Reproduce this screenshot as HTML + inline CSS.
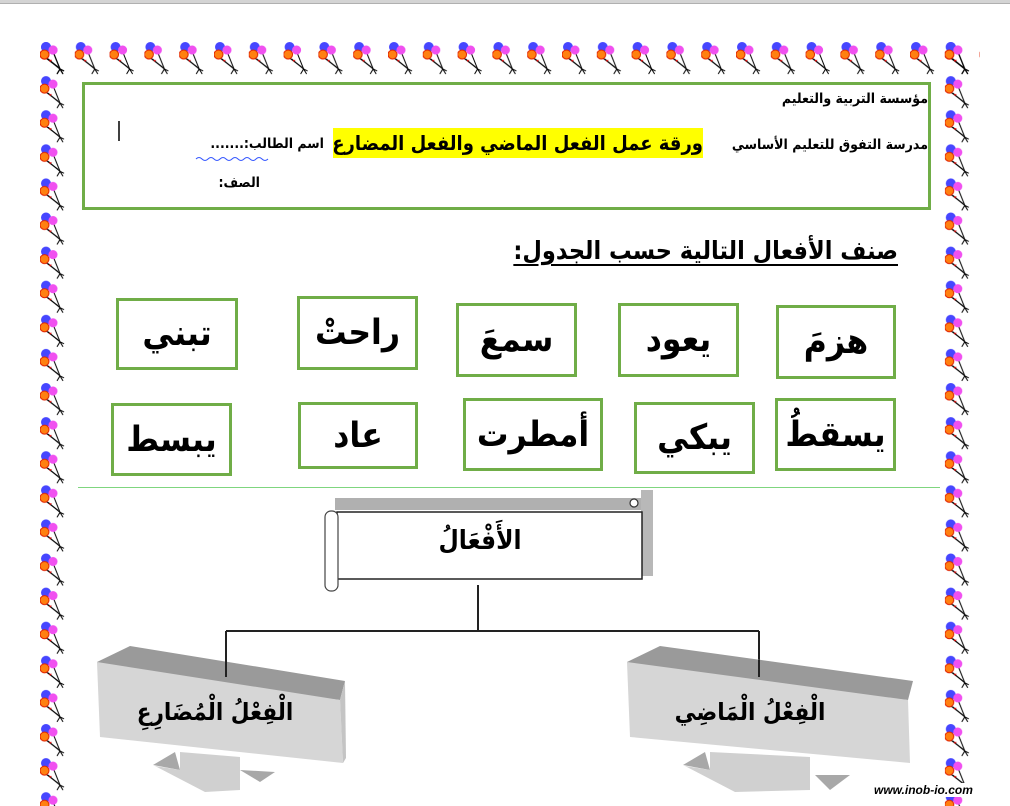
<!DOCTYPE html>
<html><head><meta charset="utf-8">
<style>
html,body{margin:0;padding:0;background:#fff;}
body{width:1010px;height:806px;position:relative;overflow:hidden;font-family:"DejaVu Sans Condensed","DejaVu Sans",sans-serif;}
.t{position:absolute;white-space:nowrap;font-weight:bold;color:#000;direction:rtl;font-family:"DejaVu Sans Condensed","DejaVu Sans",sans-serif;}
.box{position:absolute;border:3px solid #70ad47;box-sizing:border-box;display:flex;align-items:center;justify-content:center;font-weight:bold;font-size:35px;direction:rtl;font-family:"DejaVu Sans Condensed","DejaVu Sans",sans-serif;}
</style></head><body>
<div style="position:absolute;left:0;top:0;width:1010px;height:3px;background:#d4d4d4;border-bottom:1px solid #b0b0b0"></div>
<svg width="1010" height="806" style="position:absolute;left:0;top:0">
<defs>
<pattern id="bl" patternUnits="userSpaceOnUse" x="40" y="42" width="34.8" height="34.1">
<g stroke="#000" stroke-width="1" fill="none">
<path d="M8 17 L20 27 L17 32 M20 27 L23 32 M20 27 L24 29"/>
<path d="M14 12 L20 27"/>
<path d="M6 16 L18 25"/>
</g>
<circle cx="6" cy="5" r="5" fill="#4646ff"/>
<circle cx="13" cy="8" r="4.5" fill="#f050f0"/>
<circle cx="4.5" cy="12.5" r="4.5" fill="#ff8010" stroke="#e02000" stroke-width="1"/>
<path d="M9 18 l3 0 l-2 2z" fill="#e00000"/>
</pattern>
</defs>
<rect x="40" y="42" width="940" height="34" fill="url(#bl)"/>
<rect x="40" y="42" width="34" height="764" fill="url(#bl)"/>
<rect x="944.8" y="42" width="34" height="764" fill="url(#bl)"/>
<rect x="83.5" y="83.5" width="846" height="125" fill="none" stroke="#70ad47" stroke-width="3"/>
<line x1="119" y1="121" x2="119" y2="141" stroke="#000" stroke-width="1.5"/>
<line x1="78" y1="487.5" x2="940" y2="487.5" stroke="#7fd67f" stroke-width="1"/>
<rect x="335" y="498" width="312" height="12" fill="#b0b0b0"/>
<rect x="641" y="490" width="12" height="86" fill="#b8b8b8"/>
<rect x="337" y="512" width="305" height="67" fill="#fff" stroke="#222" stroke-width="1.5"/>
<rect x="325" y="511" width="13" height="80" rx="6" fill="#fff" stroke="#444" stroke-width="1.2"/>
<circle cx="634" cy="503" r="4" fill="#fff" stroke="#333" stroke-width="1.2"/>
<g stroke="#222" stroke-width="2" fill="none">
<line x1="478" y1="585" x2="478" y2="632"/>
<line x1="226" y1="631" x2="759" y2="631"/>
<line x1="226" y1="631" x2="226" y2="680"/>
<line x1="759" y1="631" x2="759" y2="680"/>
</g>
<g>
<polygon points="97,662 130,646 345,681 340,700 100,672" fill="#9a9a9a"/>
<polygon points="97,662 340,700 343,763 100,737" fill="#d6d6d6"/>
<polygon points="340,700 345,681 346,758 343,763" fill="#c4c4c4"/>
<polygon points="153,765 175,752 180,770" fill="#a8a8a8"/>
<polygon points="240,770 275,772 260,782" fill="#a8a8a8"/>
<polygon points="155,766 180,770 180,752 240,757 240,790 205,792" fill="#d0d0d0"/>
</g>
<line x1="226" y1="660" x2="226" y2="677" stroke="#222" stroke-width="2"/>
<g transform="translate(530,0)">
<polygon points="97,662 130,646 383,681 378,700 100,672" fill="#9a9a9a"/>
<polygon points="97,662 378,700 380,763 100,737" fill="#d6d6d6"/>
<polygon points="153,765 175,752 180,770" fill="#a8a8a8"/>
<polygon points="285,775 320,775 300,790" fill="#a8a8a8"/>
<polygon points="155,766 180,770 180,752 280,757 280,790 205,792" fill="#d0d0d0"/>
</g>
<line x1="759" y1="660" x2="759" y2="677" stroke="#222" stroke-width="2"/>
<path d="M196 159 q3 -3 6 0 t6 0 t6 0 t6 0 t6 0 t6 0 t6 0 t6 0 t6 0 t6 0 t6 0 t6 0" stroke="#3355ff" fill="none" stroke-width="1"/>
</svg>

<div class="t" style="right:82px;top:91px;font-size:14px">مؤسسة التربية والتعليم</div>
<div class="t" style="right:82px;top:137px;font-size:14px">مدرسة التفوق للتعليم الأساسي</div>
<div class="t" style="left:333px;top:128px;width:370px;height:30px;background:#ffff00;font-size:20px;line-height:30px;text-align:center;overflow:hidden">ورقة عمل الفعل الماضي والفعل المضارع</div>
<div class="t" style="right:686px;top:136px;font-size:14px">اسم الطالب:.......</div>
<div class="t" style="right:750px;top:175px;font-size:14px">الصف:</div>

<div class="t" style="right:112px;top:236px;font-size:25px;text-decoration:underline;text-underline-offset:5px">صنف الأفعال التالية حسب الجدول:</div>

<div class="box" style="left:116px;top:298px;width:122px;height:72px">تبني</div>
<div class="box" style="left:297px;top:296px;width:121px;height:74px">راحتْ</div>
<div class="box" style="left:456px;top:303px;width:121px;height:74px">سمعَ</div>
<div class="box" style="left:618px;top:303px;width:121px;height:74px">يعود</div>
<div class="box" style="left:776px;top:305px;width:120px;height:74px">هزمَ</div>
<div class="box" style="left:111px;top:403px;width:121px;height:73px">يبسط</div>
<div class="box" style="left:298px;top:402px;width:120px;height:67px">عاد</div>
<div class="box" style="left:463px;top:398px;width:140px;height:73px">أمطرت</div>
<div class="box" style="left:634px;top:402px;width:121px;height:72px">يبكي</div>
<div class="box" style="left:775px;top:398px;width:121px;height:73px">يسقطُ</div>

<div class="t" style="left:380px;top:526px;width:200px;text-align:center;font-size:26px">الأَفْعَالُ</div>
<div class="t" style="left:110px;top:698px;width:210px;text-align:center;font-size:24px">الْفِعْلُ الْمُضَارِعِ</div>
<div class="t" style="left:650px;top:698px;width:200px;text-align:center;font-size:24px">الْفِعْلُ الْمَاضِي</div>

<div style="position:absolute;left:874px;top:783px;font-size:12px;font-weight:bold;font-style:italic;color:#000;white-space:nowrap;background:#fff;font-family:'Liberation Sans',sans-serif">www.inob-io.com</div>
</body></html>
